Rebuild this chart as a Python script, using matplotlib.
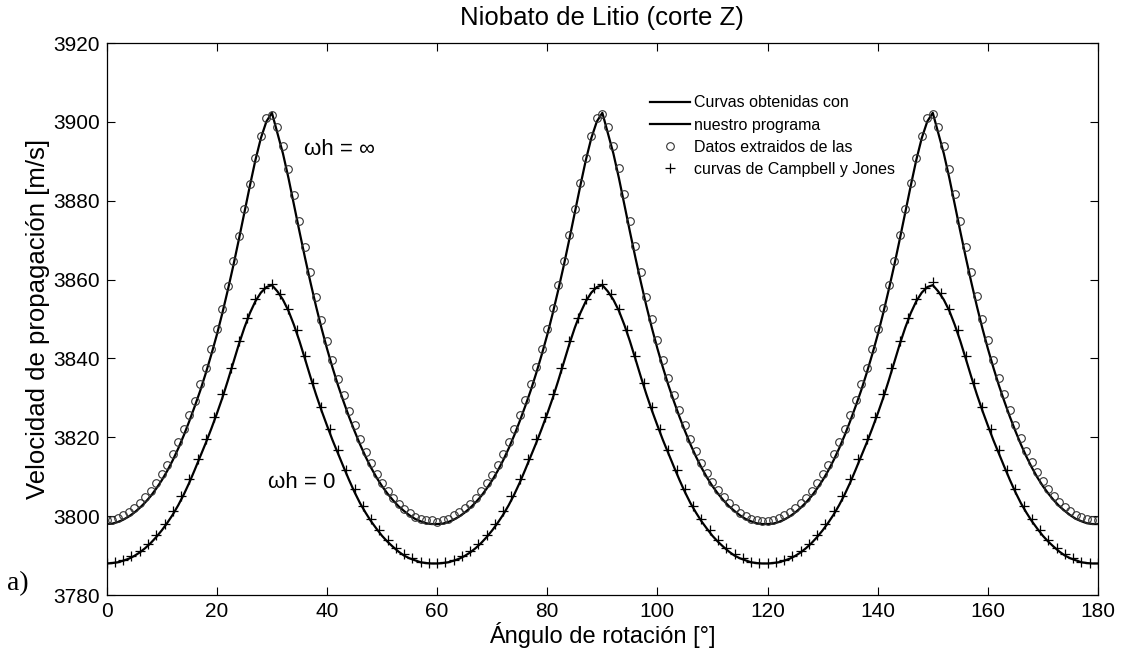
import numpy as np
import matplotlib
matplotlib.use('Agg')
import matplotlib.pyplot as plt

plt.rcParams['font.family'] = ['Liberation Sans', 'DejaVu Sans']

# ---------------------------------------------------------------
# data (velocidad [m/s] vs angulo [grados])
# ---------------------------------------------------------------
ang_line = np.arange(0, 181, 1)     # grid of the computed curves

vel_inf_line = [
    3798.0, 3798.1, 3798.5, 3799.1, 3799.9, 3800.9, 3802.1, 3803.5, 3805.1, 3807.0,
    3809.1, 3811.5, 3814.2, 3817.2, 3820.5, 3824.1, 3827.9, 3831.9, 3836.3, 3841.0,
    3846.0, 3851.5, 3857.4, 3863.6, 3870.2, 3877.0, 3883.8, 3890.3, 3895.9, 3900.1,
    3902.3, 3897.2, 3892.0, 3885.8, 3879.0, 3872.2, 3865.6, 3859.3, 3853.3, 3847.7,
    3842.5, 3837.7, 3833.2, 3829.1, 3825.2, 3821.6, 3818.2, 3815.1, 3812.3, 3809.8,
    3807.6, 3805.7, 3804.0, 3802.5, 3801.3, 3800.2, 3799.3, 3798.7, 3798.2, 3798.0,
    3798.0, 3798.1, 3798.5, 3799.1, 3799.9, 3800.9, 3802.1, 3803.5, 3805.1, 3807.0,
    3809.1, 3811.5, 3814.2, 3817.2, 3820.5, 3824.1, 3827.9, 3831.9, 3836.3, 3841.0,
    3846.0, 3851.5, 3857.4, 3863.6, 3870.2, 3877.0, 3883.8, 3890.3, 3895.9, 3900.1,
    3902.3, 3897.2, 3892.0, 3885.8, 3879.0, 3872.2, 3865.6, 3859.3, 3853.3, 3847.7,
    3842.5, 3837.7, 3833.2, 3829.1, 3825.2, 3821.6, 3818.2, 3815.1, 3812.3, 3809.8,
    3807.6, 3805.7, 3804.0, 3802.5, 3801.3, 3800.2, 3799.3, 3798.7, 3798.2, 3798.0,
    3798.0, 3798.1, 3798.5, 3799.1, 3799.9, 3800.9, 3802.1, 3803.5, 3805.1, 3807.0,
    3809.1, 3811.5, 3814.2, 3817.2, 3820.5, 3824.1, 3827.9, 3831.9, 3836.3, 3841.0,
    3846.0, 3851.5, 3857.4, 3863.6, 3870.2, 3877.0, 3883.8, 3890.3, 3895.9, 3900.1,
    3902.3, 3897.2, 3892.0, 3885.8, 3879.0, 3872.2, 3865.6, 3859.3, 3853.3, 3847.7,
    3842.5, 3837.7, 3833.2, 3829.1, 3825.2, 3821.6, 3818.2, 3815.1, 3812.3, 3809.8,
    3807.6, 3805.7, 3804.0, 3802.5, 3801.3, 3800.2, 3799.3, 3798.7, 3798.2, 3798.0,
    3798.0]

vel_0_line = [
    3788.0, 3788.1, 3788.3, 3788.7, 3789.2, 3789.9, 3790.8, 3791.9, 3793.2, 3794.7,
    3796.4, 3798.3, 3800.4, 3802.8, 3805.5, 3808.5, 3811.8, 3815.2, 3818.6, 3822.2,
    3826.0, 3830.0, 3834.4, 3839.0, 3843.6, 3847.8, 3851.5, 3854.5, 3856.7, 3858.1,
    3858.6, 3857.0, 3854.9, 3852.1, 3848.5, 3844.4, 3839.9, 3835.3, 3830.9, 3826.8,
    3823.0, 3819.3, 3815.9, 3812.5, 3809.2, 3806.1, 3803.3, 3800.9, 3798.7, 3796.8,
    3795.0, 3793.5, 3792.2, 3791.0, 3790.0, 3789.3, 3788.8, 3788.3, 3788.1, 3788.0,
    3788.0, 3788.1, 3788.3, 3788.7, 3789.2, 3789.9, 3790.8, 3791.9, 3793.2, 3794.7,
    3796.4, 3798.3, 3800.4, 3802.8, 3805.5, 3808.5, 3811.8, 3815.2, 3818.6, 3822.2,
    3826.0, 3830.0, 3834.4, 3839.0, 3843.6, 3847.8, 3851.5, 3854.5, 3856.7, 3858.1,
    3858.6, 3857.0, 3854.9, 3852.1, 3848.5, 3844.4, 3839.9, 3835.3, 3830.9, 3826.8,
    3823.0, 3819.3, 3815.9, 3812.5, 3809.2, 3806.1, 3803.3, 3800.9, 3798.7, 3796.8,
    3795.0, 3793.5, 3792.2, 3791.0, 3790.0, 3789.3, 3788.8, 3788.3, 3788.1, 3788.0,
    3788.0, 3788.1, 3788.3, 3788.7, 3789.2, 3789.9, 3790.8, 3791.9, 3793.2, 3794.7,
    3796.4, 3798.3, 3800.4, 3802.8, 3805.5, 3808.5, 3811.8, 3815.2, 3818.6, 3822.2,
    3826.0, 3830.0, 3834.4, 3839.0, 3843.6, 3847.8, 3851.5, 3854.5, 3856.7, 3858.1,
    3858.6, 3857.0, 3854.9, 3852.1, 3848.5, 3844.4, 3839.9, 3835.3, 3830.9, 3826.8,
    3823.0, 3819.3, 3815.9, 3812.5, 3809.2, 3806.1, 3803.3, 3800.9, 3798.7, 3796.8,
    3795.0, 3793.5, 3792.2, 3791.0, 3790.0, 3789.3, 3788.8, 3788.3, 3788.1, 3788.0,
    3788.0]

ang_circ = np.arange(0, 181, 1)
vel_inf_circ = [
    3799.0, 3799.1, 3799.6, 3800.3, 3801.1, 3802.1, 3803.3, 3804.8, 3806.4, 3808.4,
    3810.6, 3813.0, 3815.8, 3818.7, 3822.0, 3825.6, 3829.3, 3833.4, 3837.6, 3842.4,
    3847.4, 3852.6, 3858.5, 3864.6, 3871.1, 3877.9, 3884.3, 3890.8, 3896.4, 3900.9,
    3901.8, 3898.6, 3893.8, 3888.0, 3881.5, 3874.8, 3868.2, 3861.8, 3855.6, 3849.8,
    3844.5, 3839.5, 3834.9, 3830.7, 3826.7, 3823.0, 3819.5, 3816.3, 3813.4, 3810.8,
    3808.5, 3806.5, 3804.7, 3803.2, 3801.9, 3800.8, 3799.9, 3799.3, 3799.0, 3798.9,
    3798.6, 3798.9, 3799.4, 3800.2, 3801.0, 3802.0, 3803.2, 3804.6, 3806.3, 3808.3,
    3810.5, 3812.9, 3815.7, 3818.8, 3822.1, 3825.7, 3829.5, 3833.5, 3837.8, 3842.5,
    3847.5, 3852.8, 3858.6, 3864.7, 3871.2, 3878.0, 3884.5, 3890.9, 3896.5, 3901.0,
    3902.0, 3898.8, 3893.9, 3888.2, 3881.6, 3874.9, 3868.4, 3862.0, 3855.7, 3850.0,
    3844.6, 3839.6, 3835.0, 3830.8, 3826.8, 3823.1, 3819.6, 3816.4, 3813.5, 3810.9,
    3808.6, 3806.6, 3804.8, 3803.3, 3802.0, 3800.9, 3800.0, 3799.4, 3799.0, 3798.8,
    3798.7, 3799.0, 3799.5, 3800.3, 3801.1, 3802.1, 3803.3, 3804.7, 3806.4, 3808.4,
    3810.6, 3813.0, 3815.8, 3818.8, 3822.1, 3825.7, 3829.4, 3833.5, 3837.7, 3842.4,
    3847.5, 3852.7, 3858.6, 3864.7, 3871.2, 3877.9, 3884.4, 3890.9, 3896.5, 3901.0,
    3902.1, 3898.7, 3893.9, 3888.1, 3881.6, 3874.9, 3868.3, 3861.9, 3855.8, 3850.0,
    3844.7, 3839.7, 3835.1, 3830.9, 3826.9, 3823.2, 3819.8, 3816.6, 3813.7, 3811.1,
    3808.8, 3806.9, 3805.1, 3803.6, 3802.3, 3801.2, 3800.3, 3799.7, 3799.3, 3799.1,
    3799.0]

ang_plus = np.arange(0, 180.1, 1.5)
vel_0_plus = [
    3788.2, 3788.4, 3788.9, 3789.8, 3791.2, 3793.0, 3795.3, 3798.1, 3801.3, 3805.1,
    3809.5, 3814.5, 3819.6, 3825.1, 3831.0, 3837.6, 3844.4, 3850.3, 3855.0, 3857.9,
    3859.0, 3856.4, 3852.6, 3847.1, 3840.6, 3833.9, 3827.6, 3822.0, 3816.7, 3811.6,
    3806.8, 3802.7, 3799.2, 3796.4, 3793.9, 3792.0, 3790.3, 3789.3, 3788.4, 3788.1,
    3788.2, 3788.4, 3788.9, 3789.8, 3791.2, 3793.0, 3795.3, 3798.1, 3801.3, 3805.1,
    3809.5, 3814.5, 3819.6, 3825.1, 3831.0, 3837.6, 3844.4, 3850.3, 3855.0, 3857.9,
    3859.0, 3856.4, 3852.6, 3847.1, 3840.6, 3833.9, 3827.6, 3822.0, 3816.7, 3811.6,
    3806.8, 3802.7, 3799.2, 3796.4, 3793.9, 3792.0, 3790.3, 3789.3, 3788.4, 3788.1,
    3788.2, 3788.4, 3788.9, 3789.8, 3791.2, 3793.0, 3795.3, 3798.1, 3801.3, 3805.1,
    3809.5, 3814.5, 3819.6, 3825.1, 3831.0, 3837.6, 3844.4, 3850.3, 3855.0, 3857.9,
    3859.4, 3856.6, 3852.6, 3847.1, 3840.6, 3833.9, 3827.6, 3822.0, 3816.7, 3811.6,
    3806.8, 3802.7, 3799.2, 3796.4, 3793.9, 3792.0, 3790.3, 3789.3, 3788.4, 3788.1,
    3788.2]

x_ticks = [0, 20, 40, 60, 80, 100, 120, 140, 160, 180]
y_ticks = [3780, 3800, 3820, 3840, 3860, 3880, 3900, 3920]

#########################################################################
fig = plt.figure(figsize=(11.22, 6.51), dpi=100)
ax = fig.add_axes([0.0951, 0.0860, 0.8835, 0.8479])

ax.plot(ang_line, vel_inf_line, color='black', linewidth=1.6, label='Curvas obtenidas con')
ax.plot(ang_line, vel_0_line, color='black', linewidth=1.6, label='nuestro programa')
ax.plot(ang_circ, vel_inf_circ, linestyle='none', marker='o', markersize=5.5,
        markerfacecolor='none', markeredgecolor='#333333', markeredgewidth=0.8,
        label='Datos extraidos de las')
ax.plot(ang_plus, vel_0_plus, linestyle='none', marker='+', markersize=6.5,
        markeredgecolor='black', markeredgewidth=0.9,
        label='curvas de Campbell y Jones')

ax.set_xlim(0, 180)
ax.set_ylim(3780, 3920)
ax.set_xticks(x_ticks)
ax.set_yticks(y_ticks)
ax.tick_params(direction='in', top=True, right=True, length=6, width=0.8,
               labelsize=15, pad=5)
for sp in ax.spines.values():
    sp.set_linewidth(0.9)

ax.set_title('Niobato de Litio (corte Z)', fontsize=18.5, pad=13)
ax.set_xlabel('Ángulo de rotación [°]', fontsize=17, labelpad=1)
ax.set_ylabel('Velocidad de propagación [m/s]', fontsize=18.5, labelpad=2)

ax.legend(loc='upper left', bbox_to_anchor=(0.548, 0.905), frameon=False,
          fontsize=11.5, handlelength=2.5, handletextpad=0.27,
          labelspacing=0.45, borderpad=0, borderaxespad=0)

ax.text(35.9, 3893, 'ωh = ∞', fontsize=16, ha='left', va='center')
ax.text(29.3, 3808.5, 'ωh = 0', fontsize=16, ha='left', va='center')
fig.text(0.006, 0.104, 'a)', fontsize=20, family='Liberation Serif',
         ha='left', va='center')

plt.savefig('out.png', dpi=100)
plt.close()
